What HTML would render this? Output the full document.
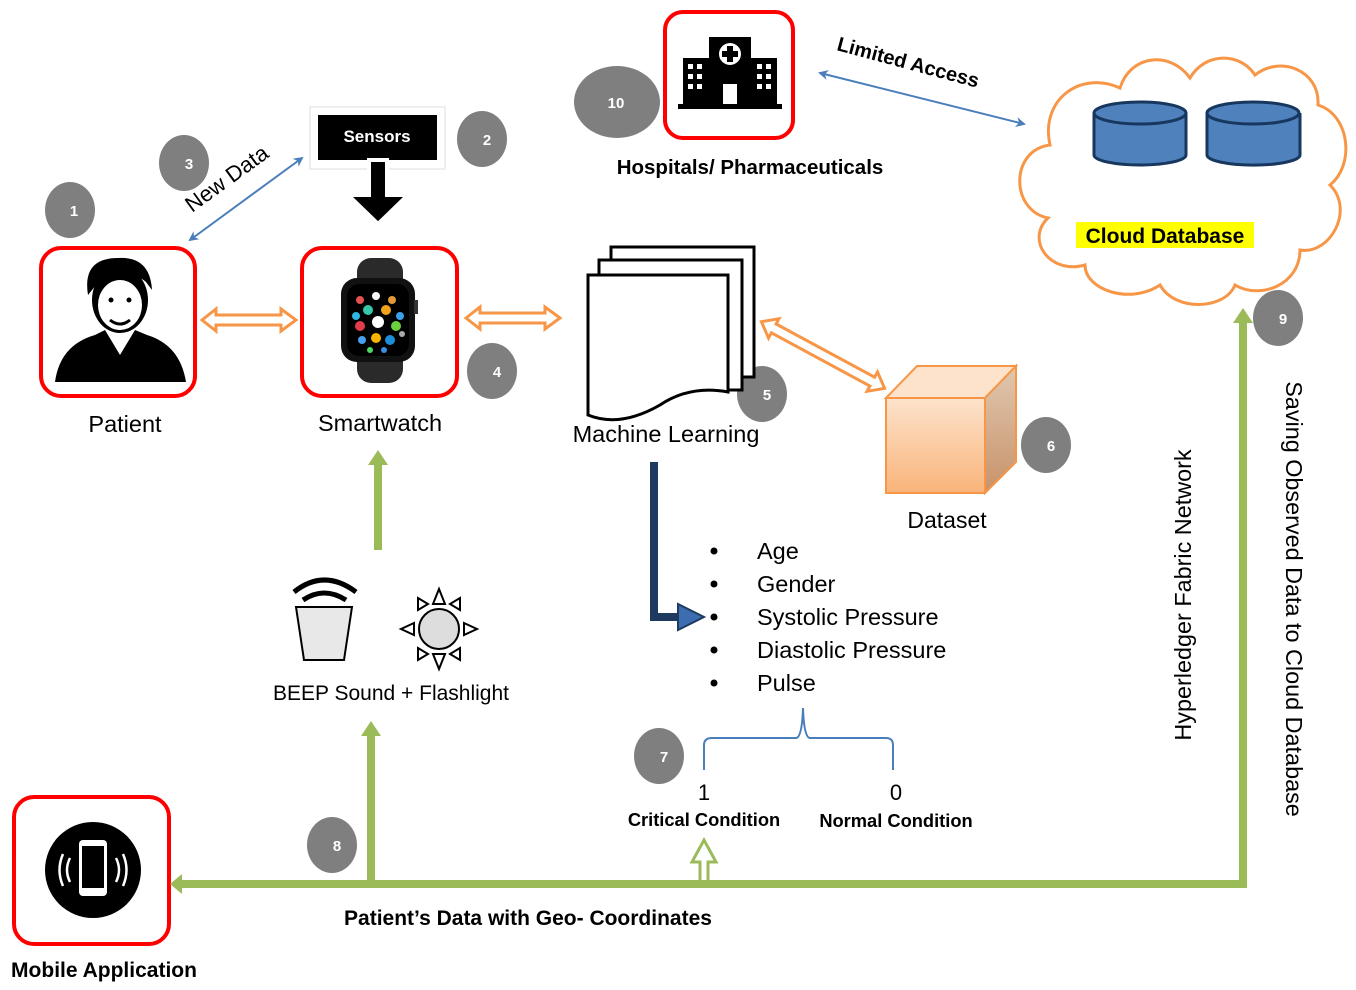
<!DOCTYPE html>
<html><head><meta charset="utf-8"><style>
html,body{margin:0;padding:0;background:#fff}
svg{display:block;font-family:"Liberation Sans",Arial,sans-serif}
</style></head><body>
<svg width="1356" height="990" viewBox="0 0 1356 990" xmlns="http://www.w3.org/2000/svg">
<defs>
<marker id="bl" markerWidth="10" markerHeight="10" refX="8" refY="5" orient="auto-start-reverse" markerUnits="userSpaceOnUse"><path d="M0,0 L10,5 L0,10 L3,5z" fill="#4a7ebb"/></marker>
<linearGradient id="cf" x1="0" y1="0" x2="0" y2="1"><stop offset="0" stop-color="#fde3cc"/><stop offset="1" stop-color="#f9b47a"/></linearGradient>
<linearGradient id="cs" x1="0" y1="0" x2="0" y2="1"><stop offset="0" stop-color="#e0c8b0"/><stop offset="1" stop-color="#c8926a"/></linearGradient>
</defs>

<g fill="#7f7f7f">
<ellipse cx="70" cy="210" rx="25" ry="28"/>
<ellipse cx="482" cy="139" rx="25" ry="28"/>
<ellipse cx="184" cy="163" rx="25" ry="28"/>
<ellipse cx="492" cy="371" rx="25" ry="28"/>
<ellipse cx="762" cy="394" rx="25" ry="28"/>
<ellipse cx="1046" cy="445" rx="25" ry="28"/>
<ellipse cx="659" cy="756" rx="25" ry="28"/>
<ellipse cx="332" cy="845" rx="25" ry="28"/>
<ellipse cx="1278" cy="318" rx="25" ry="28"/>
<ellipse cx="617" cy="102" rx="43" ry="36"/>
</g>
<g fill="#fff" font-weight="bold" font-size="15" text-anchor="middle">
<text x="74" y="216">1</text><text x="487" y="145">2</text><text x="189" y="169">3</text>
<text x="497" y="377">4</text><text x="767" y="400">5</text><text x="1051" y="451">6</text>
<text x="664" y="762">7</text><text x="337" y="851">8</text><text x="1283" y="324">9</text>
<text x="616" y="108">10</text>
</g>

<g fill="#fff" stroke="#f00" stroke-width="4">
<rect x="41" y="248" width="154" height="148" rx="20"/>
<rect x="302" y="248" width="155" height="148" rx="20"/>
<rect x="665" y="12" width="128" height="126" rx="18"/>
<rect x="14" y="797" width="155" height="147" rx="20"/>
</g>

<g fill="#000">
<path d="M55,382 Q60,345 95,335 L105,330 L120,355 L135,330 L147,335 Q180,345 186,382z"/>
<ellipse cx="120" cy="300" rx="28" ry="33"/>
<path d="M88,295 Q82,258 118,258 Q150,256 152,290 L146,282 Q130,268 100,280z"/>
</g>
<ellipse cx="120" cy="305" rx="22" ry="25" fill="#fff"/>
<circle cx="111" cy="300" r="2.5"/><circle cx="129" cy="300" r="2.5"/>
<path d="M110,320 Q120,328 130,320" stroke="#000" stroke-width="3" fill="none"/>
<path d="M112,336 L120,350 L128,336z" fill="#fff"/>

<rect x="357" y="258" width="46" height="125" rx="14" fill="#2a2a2a"/>
<rect x="341" y="278" width="74" height="84" rx="16" fill="#111"/>
<rect x="347" y="284" width="62" height="72" rx="12" fill="#000"/>
<g>
<circle cx="360" cy="300" r="4" fill="#e0524b"/><circle cx="376" cy="296" r="4" fill="#f7f7f7"/><circle cx="392" cy="300" r="4" fill="#e39a3a"/>
<circle cx="356" cy="316" r="4" fill="#2fb5e0"/><circle cx="368" cy="310" r="5" fill="#35c7a8"/><circle cx="386" cy="310" r="5" fill="#f2a31a"/><circle cx="400" cy="316" r="4" fill="#3aa0e8"/>
<circle cx="360" cy="326" r="5" fill="#e43c4a"/><circle cx="378" cy="322" r="6" fill="#fff"/><circle cx="396" cy="326" r="5" fill="#6bd13e"/>
<circle cx="362" cy="340" r="4" fill="#4a9ef0"/><circle cx="376" cy="338" r="5" fill="#f5b400"/><circle cx="390" cy="340" r="5" fill="#1c8ed9"/><circle cx="402" cy="334" r="3" fill="#aaa"/>
<circle cx="370" cy="350" r="3" fill="#4cd964"/><circle cx="384" cy="350" r="3" fill="#3b8ee8"/>
</g>
<rect x="414" y="300" width="4" height="14" fill="#333"/>

<rect x="310" y="107" width="135" height="62" fill="#fff" stroke="#eee" stroke-width="2"/>
<rect x="318" y="115" width="119" height="45" fill="#000"/>
<text x="377" y="142" fill="#fff" font-weight="bold" font-size="17" text-anchor="middle">Sensors</text>
<path d="M369,160 L369,195 L348,195 L378,224 L408,195 L387,195 L387,160z" fill="#000" stroke="#fff" stroke-width="4" stroke-linejoin="miter"/>

<line x1="190" y1="240" x2="302" y2="158" stroke="#4a7ebb" stroke-width="2" marker-start="url(#bl)" marker-end="url(#bl)"/>
<text x="0" y="0" font-size="22" fill="#000" transform="translate(192,213) rotate(-36)">New Data</text>

<g fill="#fff" stroke="#f79646" stroke-width="3" stroke-linejoin="miter">
<path d="M202,320 L216,309 L216,315 L281,315 L281,309 L296,320 L281,331 L281,325 L216,325 L216,331z"/>
<path d="M466,318 L480,307 L480,313 L545,313 L545,307 L560,318 L545,329 L545,323 L480,323 L480,329z"/>
<path transform="translate(823,355) rotate(28.4)" d="M-70,0 L-56,-11 L-56,-5 L56,-5 L56,-11 L70,0 L56,11 L56,5 L-56,5 L-56,11z"/>
</g>

<g fill="#000">
<rect x="709" y="37" width="42" height="67"/>
<rect x="683" y="58" width="26" height="46"/>
<rect x="751" y="58" width="26" height="46"/>
<rect x="678" y="104" width="104" height="5"/>
</g>
<circle cx="730" cy="54" r="11" fill="#fff"/>
<path d="M727,46h6v5h5v6h-5v5h-6v-5h-5v-6h5z" fill="#000"/>
<rect x="723" y="84" width="14" height="20" fill="#fff"/>
<g fill="#fff"><rect x="688" y="64" width="5" height="5"/><rect x="697" y="64" width="5" height="5"/><rect x="688" y="74" width="5" height="5"/><rect x="697" y="74" width="5" height="5"/><rect x="688" y="84" width="5" height="5"/><rect x="697" y="84" width="5" height="5"/>
<rect x="757" y="64" width="5" height="5"/><rect x="766" y="64" width="5" height="5"/><rect x="757" y="74" width="5" height="5"/><rect x="766" y="74" width="5" height="5"/><rect x="757" y="84" width="5" height="5"/><rect x="766" y="84" width="5" height="5"/></g>
<text x="750" y="174" font-weight="bold" font-size="20.5" text-anchor="middle">Hospitals/ Pharmaceuticals</text>

<line x1="820" y1="73" x2="1024" y2="124" stroke="#4a7ebb" stroke-width="2" marker-start="url(#bl)" marker-end="url(#bl)"/>
<text font-weight="bold" font-size="20" transform="translate(836,50) rotate(15)">Limited Access</text>

<path d="M1048,218 C1010,210 1010,150 1050,145 C1040,100 1080,70 1120,88 C1130,55 1170,50 1190,78 C1205,52 1240,52 1255,75 C1280,55 1320,70 1318,105 C1350,115 1355,165 1330,185 C1355,210 1330,255 1300,250 C1300,285 1260,300 1235,285 C1225,310 1175,312 1160,285 C1130,305 1085,290 1085,265 C1050,275 1025,240 1048,218z" fill="#fff" stroke="#f79646" stroke-width="3"/>
<g stroke="#17375e" stroke-width="3" fill="#4f81bd">
<path d="M1094,113 L1094,155 A46,10 0 0 0 1186,155 L1186,113"/>
<ellipse cx="1140" cy="113" rx="46" ry="11"/>
<path d="M1207,113 L1207,155 A46,10 0 0 0 1300,155 L1300,113"/>
<ellipse cx="1253" cy="113" rx="46" ry="11"/>
</g>
<rect x="1076" y="222" width="178" height="26" fill="#ff0"/>
<text x="1165" y="243" font-weight="bold" font-size="21" text-anchor="middle">Cloud Database</text>

<g fill="#fff" stroke="#000" stroke-width="3">
<rect x="611" y="247" width="143" height="130"/>
<rect x="599" y="260" width="143" height="130"/>
<path d="M588,275 L728,275 L728,392 Q690,385 660,405 Q620,428 588,415z"/>
</g>
<text x="666" y="442" font-size="23.5" text-anchor="middle">Machine Learning</text>

<path d="M886,398 L917,366 L1016,366 L985,398z" fill="#fde3cc" stroke="#f79646" stroke-width="2"/>
<path d="M985,398 L1016,366 L1016,462 L985,493z" fill="url(#cs)" stroke="#f79646" stroke-width="2"/>
<rect x="886" y="398" width="99" height="95" fill="url(#cf)" stroke="#f79646" stroke-width="2"/>
<text x="947" y="528" font-size="23" text-anchor="middle">Dataset</text>

<text x="125" y="432" font-size="23.5" text-anchor="middle">Patient</text>
<text x="380" y="431" font-size="23.5" text-anchor="middle">Smartwatch</text>

<path d="M654,462 L654,617 L682,617" stroke="#1f3a5f" stroke-width="8" fill="none"/>
<path d="M678,604 L704,617 L678,630z" fill="#3b6db0" stroke="#1f3a5f" stroke-width="2"/>

<g fill="#000"><circle cx="714" cy="551" r="3.5"/><circle cx="714" cy="584" r="3.5"/><circle cx="714" cy="617" r="3.5"/><circle cx="714" cy="650" r="3.5"/><circle cx="714" cy="683" r="3.5"/></g>
<g font-size="23.5"><text x="757" y="559">Age</text><text x="757" y="592">Gender</text><text x="757" y="625">Systolic Pressure</text><text x="757" y="658">Diastolic Pressure</text><text x="757" y="691">Pulse</text></g>

<path d="M704,770 L704,745 Q704,738 712,738 L796,738 Q802,738 803,708 Q804,738 810,738 L886,738 Q893,738 893,745 L893,770" stroke="#4a7ebb" stroke-width="2" fill="none"/>
<text x="704" y="800" font-size="22" text-anchor="middle">1</text>
<text x="896" y="800" font-size="22" text-anchor="middle">0</text>
<text x="704" y="826" font-weight="bold" font-size="18.3" text-anchor="middle">Critical Condition</text>
<text x="896" y="827" font-weight="bold" font-size="18.3" text-anchor="middle">Normal Condition</text>

<path d="M296,607 L352,607 L344,660 L304,660z" fill="#e8e8e8" stroke="#000" stroke-width="2"/>
<path d="M294,592 Q324,568 356,592" stroke="#000" stroke-width="5" fill="none"/>
<path d="M303,600 Q324,586 346,600" stroke="#000" stroke-width="5" fill="none"/>
<circle cx="439" cy="629" r="20" fill="#ddd" stroke="#000" stroke-width="2"/>
<g fill="#fff" stroke="#000" stroke-width="2">
<path d="M433,604 L439,589 L445,604z"/><path d="M433,654 L439,669 L445,654z"/>
<path d="M414,623 L401,629 L414,635z"/><path d="M464,623 L477,629 L464,635z"/>
<path d="M418,610 L418,598 L428,604z"/><path d="M460,610 L460,598 L450,604z"/>
<path d="M418,648 L418,660 L428,654z"/><path d="M460,648 L460,660 L450,654z"/>
</g>
<text x="391" y="700" font-size="21" text-anchor="middle">BEEP Sound + Flashlight</text>

<g fill="#9bbb59" stroke="none">
<rect x="374" y="465" width="8" height="85"/><path d="M368,465 L378,450 L388,465z"/>
<rect x="180" y="880" width="1067" height="8"/>
<path d="M182,874 L170,884 L182,894z"/>
<rect x="367" y="735" width="8" height="148"/><path d="M361,736 L371,721 L381,736z"/>
<rect x="1239" y="322" width="8" height="566"/><path d="M1233,323 L1243,308 L1253,323z"/>
</g>
<path d="M700,880 L700,862 L692,862 L704,840 L716,862 L708,862 L708,880" fill="#fff" stroke="#9bbb59" stroke-width="3"/>
<text x="528" y="925" font-weight="bold" font-size="21" text-anchor="middle">Patient’s Data with Geo- Coordinates</text>

<circle cx="93" cy="870" r="48" fill="#000"/>
<rect x="79" y="840" width="28" height="56" rx="4" fill="#fff"/>
<rect x="82" y="846" width="22" height="42" fill="#000"/>
<g stroke="#fff" stroke-width="2.5" fill="none"><path d="M70,858 Q64,870 70,882"/><path d="M63,854 Q56,870 63,886"/><path d="M116,858 Q122,870 116,882"/><path d="M123,854 Q130,870 123,886"/></g>
<text x="104" y="977" font-weight="bold" font-size="21" text-anchor="middle">Mobile Application</text>

<text font-size="23.4" text-anchor="middle" transform="translate(1191,595) rotate(-90)">Hyperledger Fabric Network</text>
<text font-size="23.4" text-anchor="middle" transform="translate(1286,599) rotate(90)">Saving Observed Data to Cloud Database</text>
</svg>
</body></html>
